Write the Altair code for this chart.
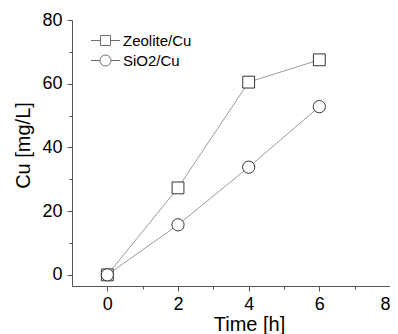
import altair as alt
import pandas as pd

time_h = [0, 2, 4, 6]
zeolite = [0, 27.3, 60.5, 67.5]
sio2 = [0, 15.7, 33.8, 52.8]
series = ["Zeolite/Cu", "SiO2/Cu"]
x_ticks = [0, 1, 2, 3, 4, 5, 6, 7, 8]
y_ticks = [0, 10, 20, 30, 40, 50, 60, 70, 80]

rows = []
for t, v in zip(time_h, zeolite):
    rows.append({"t": t, "v": v, "s": series[0]})
for t, v in zip(time_h, sio2):
    rows.append({"t": t, "v": v, "s": series[1]})
df = pd.DataFrame(rows)

FONT = "Liberation Sans"

x = alt.X("t:Q", scale=alt.Scale(domain=[-1, 8], nice=False, zero=False),
          axis=alt.Axis(values=x_ticks, title="Time [h]",
                        labelExpr="datum.value % 2 == 0 ? datum.label : ''",
                        tickSize={"condition": {"test": "datum.value % 2 != 0", "value": 3}, "value": 5},
                        labelPadding=4, titlePadding=1, titleX=177))
y = alt.Y("v:Q", scale=alt.Scale(domain=[-3.5, 80], nice=False, zero=False),
          axis=alt.Axis(values=y_ticks, title="Cu [mg/L]",
                        labelExpr="datum.value % 20 == 0 ? datum.label : ''",
                        tickSize={"condition": {"test": "datum.value % 20 != 0", "value": 3}, "value": 5},
                        labelPadding=5, titlePadding=8, titleY=125))

base = alt.Chart(df)

lines = base.mark_line(color="#9a9a9a", strokeWidth=1).encode(x=x, y=y, detail="s:N")

sq = base.transform_filter(alt.datum.s == series[0]).mark_point(
    shape="square", size=140, filled=True, fill="white", stroke="#333333", strokeWidth=1, opacity=1
).encode(x=x, y=y)
ci = base.transform_filter(alt.datum.s == series[1]).mark_point(
    shape="circle", size=150, filled=True, fill="white", stroke="#333333", strokeWidth=1, opacity=1
).encode(x=x, y=y)

sq_path = "M-2.9,0H-1M1,0H2.9M-1,-1H1V1H-1Z"
ci_path = "M-2.9,0H-1.1M1.1,0H2.9M1.1,0A1.1,1.1 0 1,1 -1.1,0A1.1,1.1 0 1,1 1.1,0Z"

leg = base.transform_filter("false").mark_point(
    filled=False, stroke="#333333", strokeWidth=1
).encode(
    x=x, y=y,
    shape=alt.Shape("s:N", scale=alt.Scale(domain=series, range=[sq_path, ci_path]),
                    legend=alt.Legend(title=None, orient="none", legendX=26, legendY=13,
                                      symbolSize=100, labelFontSize=15, labelFont=FONT,
                                      labelColor="black", symbolStrokeColor="#333333",
                                      symbolStrokeWidth=1, symbolFillColor="transparent",
                                      rowPadding=4, labelOffset=10))
)

chart = alt.layer(lines, sq, ci, leg).properties(
    width=318, height=266,
    background="white",
    autosize=alt.AutoSizeParams(type="none"),
    padding={"left": 64, "top": 12, "right": 0, "bottom": 48},
).configure_view(stroke=None).configure_axis(
    grid=False, domainColor="#555555", tickColor="#555555",
    labelFont=FONT, titleFont=FONT, labelFontSize=18, titleFontSize=20,
    labelColor="black", titleColor="black", titleFontWeight="normal",
)

chart.save("out.html", embed_options={"renderer": "svg", "actions": False})
